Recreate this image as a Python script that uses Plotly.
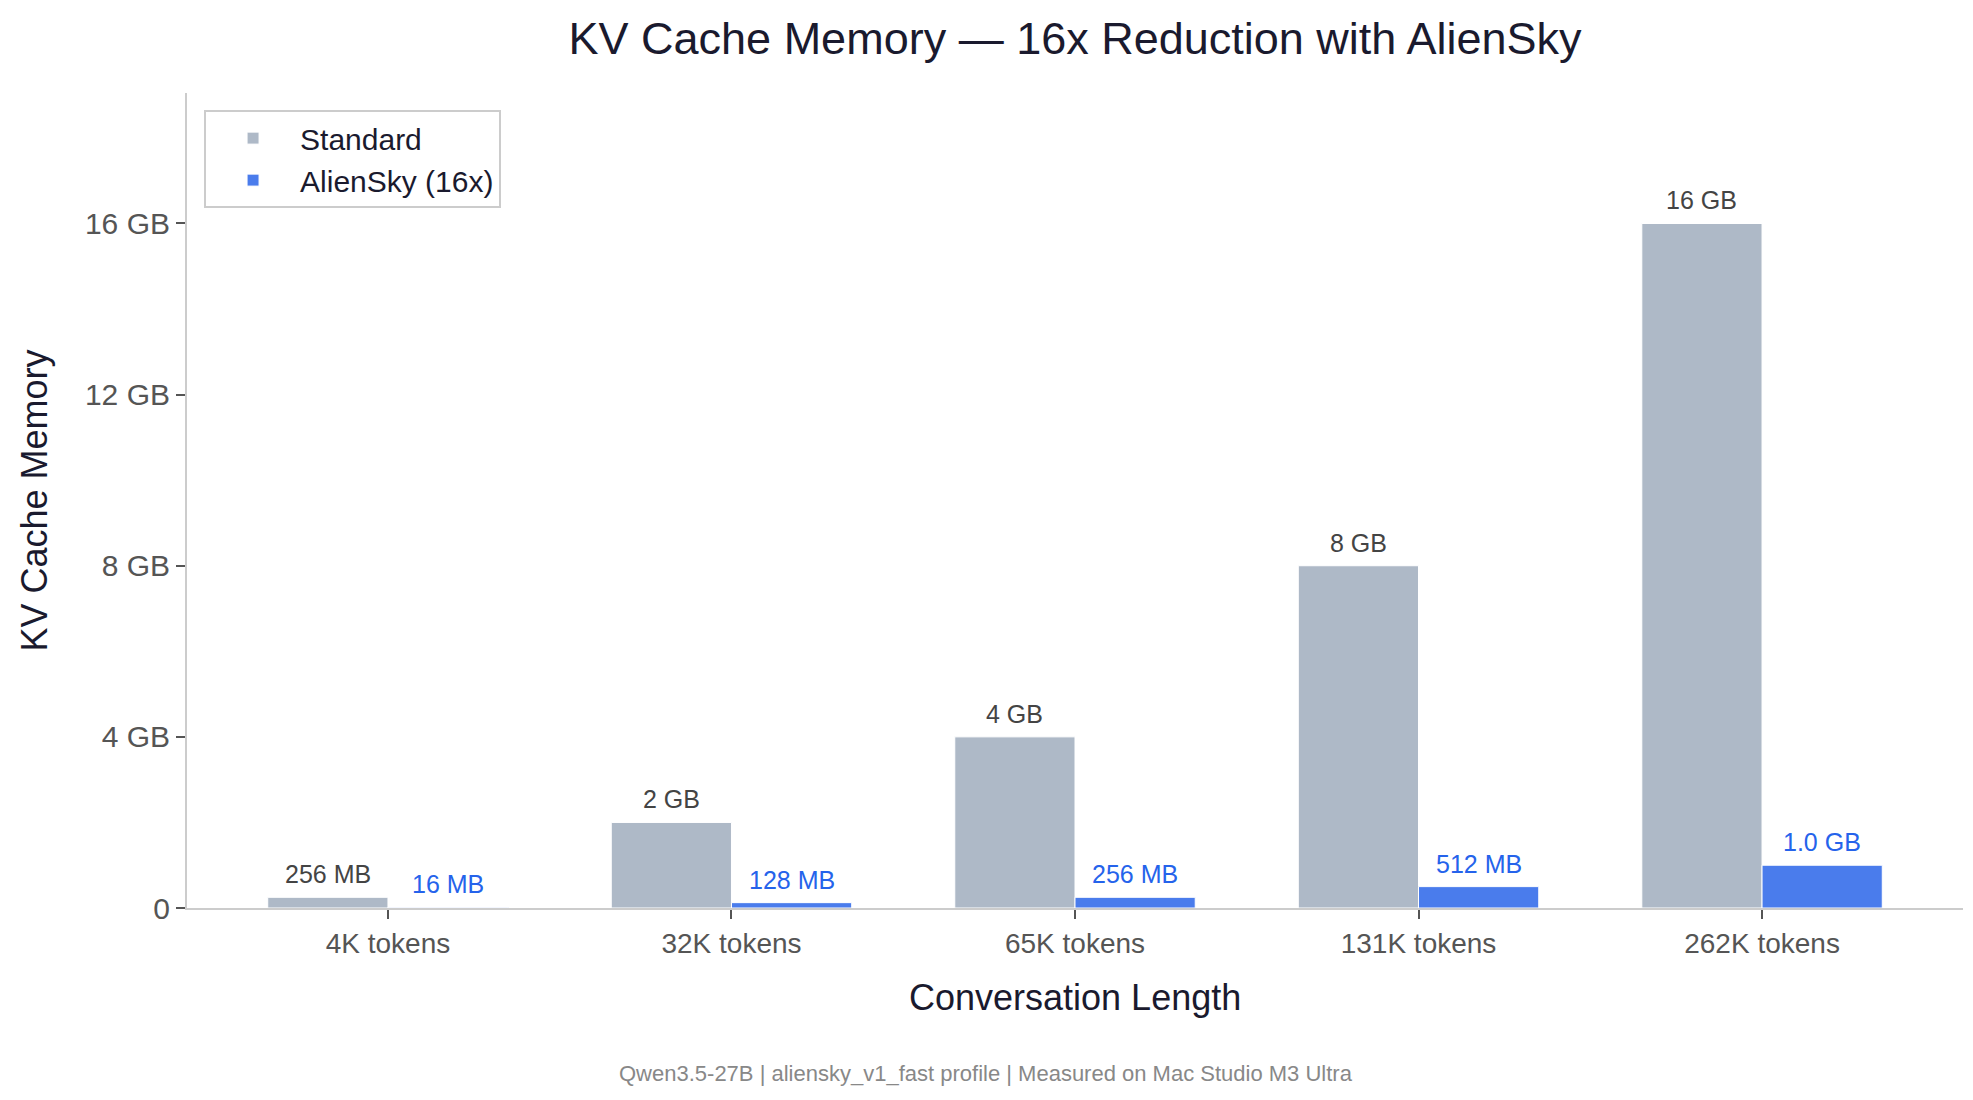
import plotly.graph_objects as go

categories = ["4K tokens", "32K tokens", "65K tokens", "131K tokens", "262K tokens"]
standard_gb = [0.25, 2, 4, 8, 16]
aliensky_gb = [0.015625, 0.125, 0.25, 0.5, 1.0]
standard_labels = ["256 MB", "2 GB", "4 GB", "8 GB", "16 GB"]
aliensky_labels = ["16 MB", "128 MB", "256 MB", "512 MB", "1.0 GB"]
ytick_vals = [0, 4, 8, 12, 16]
ytick_text = ["0", "4 GB", "8 GB", "12 GB", "16 GB"]

FONT = "Liberation Sans, Arial, Helvetica, sans-serif"
STD_COLOR = "#aeb9c7"
AS_COLOR = "#4a7cec"
AS_TEXT = "#2563eb"
DARK = "#1a1a2e"

# page body has an 8px margin, so the figure is sized to fit inside the window
W, H = 1957, 1084

fig = go.Figure()
fig.add_trace(go.Bar(x=categories, y=standard_gb, name="Standard",
                     marker=dict(color=STD_COLOR, line=dict(color="white", width=1))))
fig.add_trace(go.Bar(x=categories, y=aliensky_gb, name="AlienSky (16x)",
                     marker=dict(color=AS_COLOR, line=dict(color="white", width=1))))

# value labels above the bars
for i, cat in enumerate(categories):
    fig.add_annotation(x=i - 0.175, y=standard_gb[i], xref="x", yref="y",
                       text=standard_labels[i], showarrow=False, yanchor="bottom",
                       yshift=7, font=dict(family=FONT, size=25, color="#444444"))
    fig.add_annotation(x=i + 0.175, y=aliensky_gb[i], xref="x", yref="y",
                       text=aliensky_labels[i], showarrow=False, yanchor="bottom",
                       yshift=7, font=dict(family=FONT, size=25, color=AS_TEXT))

fig.add_annotation(x=0.5, y=-0.11, xref="paper", yref="paper", text="Conversation Length",
                   showarrow=False, xanchor="center", yanchor="middle",
                   font=dict(family=FONT, size=36, color=DARK))
fig.add_annotation(x=-0.0861, y=0.5, xref="paper", yref="paper", text="KV Cache Memory",
                   textangle=-90, showarrow=False, xanchor="center", yanchor="middle",
                   font=dict(family=FONT, size=36, color=DARK))
fig.add_annotation(x=0.45, y=-0.2025, xref="paper", yref="paper",
                   text="Qwen3.5-27B | aliensky_v1_fast profile | Measured on Mac Studio M3 Ultra",
                   showarrow=False, xanchor="center", yanchor="middle",
                   font=dict(family=FONT, size=22, color="#888888"))

fig.update_layout(
    width=W, height=H,
    margin=dict(l=179, r=2, t=85, b=184),
    paper_bgcolor="white", plot_bgcolor="white",
    barmode="group", bargap=0.3, bargroupgap=0,
    font=dict(family=FONT, color="#555555"),
    title=dict(text="KV Cache Memory — 16x Reduction with AlienSky",
               x=0.5, xref="paper", xanchor="center",
               y=1 - 30 / H, yref="container", yanchor="middle",
               font=dict(family=FONT, size=45, color=DARK)),
    legend=dict(x=0.0096, y=0.979, xanchor="left", yanchor="top",
                bordercolor="#cccccc", borderwidth=2, bgcolor="white",
                font=dict(family=FONT, size=30, color=DARK),
                itemwidth=84),
    xaxis=dict(range=[-0.585, 4.585], showline=True, linecolor="#cccccc", linewidth=2,
               ticks="outside", ticklen=9, tickwidth=2, tickcolor="#555555",
               tickfont=dict(family=FONT, size=28, color="#555555"),
               showgrid=False, zeroline=False),
    yaxis=dict(range=[0, 19.05], showline=True, linecolor="#cccccc", linewidth=2,
               tickvals=ytick_vals, ticktext=ytick_text,
               ticks="outside", ticklen=9, tickwidth=2, tickcolor="#555555",
               tickfont=dict(family=FONT, size=30, color="#555555"),
               showgrid=False, zeroline=False),
)

fig.write_html("out.html")
